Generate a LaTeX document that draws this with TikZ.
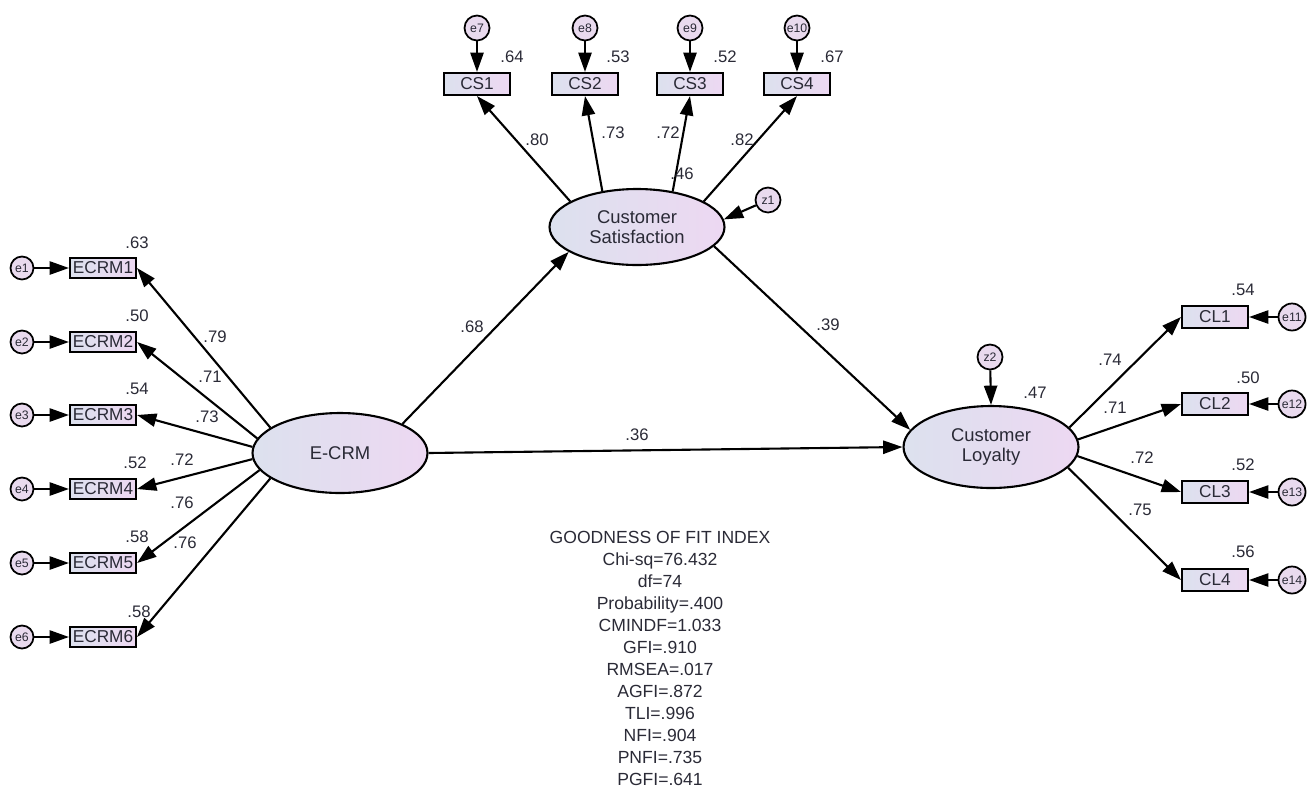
\documentclass[tikz,border=0pt]{standalone}
\usepackage{fontspec}
\setmainfont{Liberation Sans}
\usepackage{xcolor}
\usepackage{tikz}
\usetikzlibrary{arrows.meta,positioning,shapes.geometric}
\definecolor{cInk}{HTML}{2A2A36}
\definecolor{cCool}{HTML}{DCE1EE}
\definecolor{cWarm}{HTML}{EDD8F2}
\definecolor{cErr}{HTML}{E9DAEE}
\tikzset{
  latent/.style={ellipse,draw=black,line width=1.2pt,left color=cCool,right color=cWarm,minimum width=3.5cm,minimum height=1.6cm,align=center,font=\fontsize{10.5}{11.5}\selectfont,text=cInk},
  obsbox/.style={rectangle,draw=black,line width=1.2pt,left color=cCool,right color=cWarm,minimum width=1.32cm,minimum height=0.44cm,inner sep=1pt,font=\fontsize{9.8}{11}\selectfont,text=cInk},
  errc/.style={circle,draw=black,line width=1pt,fill=cErr,minimum size=0.5cm,inner sep=0pt,font=\fontsize{7}{7}\selectfont,text=cInk},
  arr/.style={-{Triangle[length=11pt,width=7.5pt]},line width=1.2pt,color=black},
  lbl/.style={font=\fontsize{9.5}{11}\selectfont,text=cInk,inner sep=0pt},
  gof/.style={align=center,font=\fontsize{10}{12.5}\selectfont,text=cInk,inner sep=0pt,anchor=north},
}
\begin{document}
\begin{tikzpicture}[x=0.02cm,y=-0.02cm]
  \useasboundingbox (0,0) rectangle (1310,788);
  % latent variables
  \node[latent] (ecrm) at (340,453) {E-CRM};
  \node[latent,minimum height=1.52cm] (cs) at (637,227) {Customer\\Satisfaction};
  \node[latent,minimum height=1.64cm] (cl) at (991,447) {Customer\\Loyalty};
  \node[errc] (z1) at (768,200) {z1};
  \node[errc] (z2) at (990,357) {z2};
  % E-CRM indicators
  \node[obsbox,minimum height=0.4cm] (x1) at (103,268) {ECRM1};
  \node[obsbox,minimum height=0.4cm] (x2) at (103,342) {ECRM2};
  \node[obsbox,minimum height=0.4cm] (x3) at (103,415) {ECRM3};
  \node[obsbox,minimum height=0.4cm] (x4) at (103,489) {ECRM4};
  \node[obsbox,minimum height=0.4cm] (x5) at (103,563) {ECRM5};
  \node[obsbox,minimum height=0.4cm] (x6) at (103,637) {ECRM6};
  \node[errc,minimum size=0.46cm] (e1) at (22,268) {e1};
  \node[errc,minimum size=0.46cm] (e2) at (22,342) {e2};
  \node[errc,minimum size=0.46cm] (e3) at (22,415) {e3};
  \node[errc,minimum size=0.46cm] (e4) at (22,489) {e4};
  \node[errc,minimum size=0.46cm] (e5) at (22,563) {e5};
  \node[errc,minimum size=0.46cm] (e6) at (22,637) {e6};
  % satisfaction indicators
  \node[obsbox] (cs1) at (477,84) {CS1};
  \node[obsbox] (cs2) at (585,84) {CS2};
  \node[obsbox] (cs3) at (690,84) {CS3};
  \node[obsbox] (cs4) at (797,84) {CS4};
  \node[errc] (e7) at (477,28) {e7};
  \node[errc] (e8) at (585,28) {e8};
  \node[errc] (e9) at (690,28) {e9};
  \node[errc] (e10) at (797,28) {e10};
  % loyalty indicators
  \node[obsbox] (cl1) at (1215,317) {CL1};
  \node[obsbox] (cl2) at (1215,404) {CL2};
  \node[obsbox] (cl3) at (1215,492) {CL3};
  \node[obsbox] (cl4) at (1215,580) {CL4};
  \node[errc,minimum size=0.54cm] (e11) at (1292,317) {e11};
  \node[errc,minimum size=0.54cm] (e12) at (1292,404) {e12};
  \node[errc,minimum size=0.54cm] (e13) at (1292,492) {e13};
  \node[errc,minimum size=0.54cm] (e14) at (1292,580) {e14};
  % structural paths
  \draw[arr] (ecrm.25) -- (cs.200);
  \draw[arr] (cs.-14) -- (cl.168);
  \draw[arr] (ecrm.east) -- (cl.west);
  \draw[arr] (z1) -- (cs.5);
  \draw[arr] (z2) -- (cl.north);
  % loadings
  \draw[arr] (ecrm.160) -- (x1.east);
  \draw[arr] (ecrm.170) -- (x2.east);
  \draw[arr] (ecrm.176) -- (x3.east);
  \draw[arr] (ecrm.184) -- (x4.east);
  \draw[arr] (ecrm.192) -- (x5.east);
  \draw[arr] (ecrm.200) -- (x6.east);
  \draw[arr] (cs.159) -- (cs1.south);
  \draw[arr] (cs.134) -- (cs2.south);
  \draw[arr] (cs.45) -- (cs3.south);
  \draw[arr] (cs.21) -- (cs4.south);
  \draw[arr] (cl.14) -- (cl1.west);
  \draw[arr] (cl.5) -- (cl2.west);
  \draw[arr] (cl.-6) -- (cl3.west);
  \draw[arr] (cl.-15) -- (cl4.west);
  % errors
  \draw[arr] (e1) -- (x1);
  \draw[arr] (e2) -- (x2);
  \draw[arr] (e3) -- (x3);
  \draw[arr] (e4) -- (x4);
  \draw[arr] (e5) -- (x5);
  \draw[arr] (e6) -- (x6);
  \draw[arr] (e7) -- (cs1);
  \draw[arr] (e8) -- (cs2);
  \draw[arr] (e9) -- (cs3);
  \draw[arr] (e10) -- (cs4);
  \draw[arr] (e11) -- (cl1);
  \draw[arr] (e12) -- (cl2);
  \draw[arr] (e13) -- (cl3);
  \draw[arr] (e14) -- (cl4);
  % estimates
  \node[lbl] (r1) at (137,243) {.63};
  \node[lbl] (r2) at (137,316) {.50};
  \node[lbl] (r3) at (137,389) {.54};
  \node[lbl] (r4) at (135,463) {.52};
  \node[lbl] (r5) at (137,537) {.58};
  \node[lbl] (r6) at (139,612) {.58};
  \node[lbl] (l1) at (215,337) {.79};
  \node[lbl] (l2) at (210,377) {.71};
  \node[lbl] (l3) at (207,417) {.73};
  \node[lbl] (l4) at (182,460) {.72};
  \node[lbl] (l5) at (182,503) {.76};
  \node[lbl] (l6) at (185,543) {.76};
  \node[lbl] (r7) at (512,57) {.64};
  \node[lbl] (r8) at (618,57) {.53};
  \node[lbl] (r9) at (725,57) {.52};
  \node[lbl] (r10) at (832,57) {.67};
  \node[lbl] (l7) at (537,140) {.80};
  \node[lbl] (l8) at (613,133) {.73};
  \node[lbl] (l9) at (668,133) {.72};
  \node[lbl] (l10) at (742,140) {.82};
  \node[lbl] (rcs) at (682,174) {.46};
  \node[lbl] (p1) at (472,327) {.68};
  \node[lbl] (p2) at (828,325) {.39};
  \node[lbl] (p3) at (637,435) {.36};
  \node[lbl] (rcl) at (1035,393) {.47};
  \node[lbl] (r11) at (1243,290) {.54};
  \node[lbl] (r12) at (1248,378) {.50};
  \node[lbl] (r13) at (1243,465) {.52};
  \node[lbl] (r14) at (1243,552) {.56};
  \node[lbl] (l11) at (1110,360) {.74};
  \node[lbl] (l12) at (1115,408) {.71};
  \node[lbl] (l13) at (1142,458) {.72};
  \node[lbl] (l14) at (1140,510) {.75};
  % fit indices
  \node[gof] (fit) at (660,531) {GOODNESS OF FIT INDEX\\Chi-sq=76.432\\df=74\\Probability=.400\\CMINDF=1.033\\GFI=.910\\RMSEA=.017\\AGFI=.872\\TLI=.996\\NFI=.904\\PNFI=.735\\PGFI=.641};
\end{tikzpicture}
\end{document}
